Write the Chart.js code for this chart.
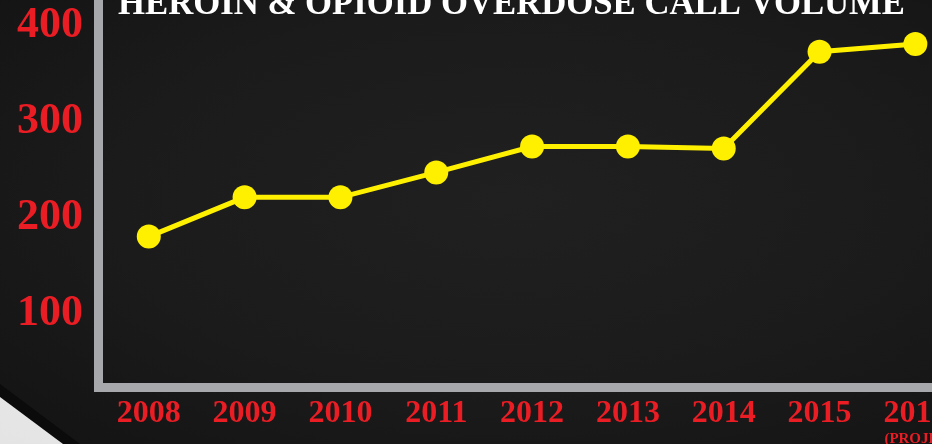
<!DOCTYPE html>
<html>
<head>
<meta charset="utf-8">
<script src="https://cdn.jsdelivr.net/npm/chart.js@4.4.1/dist/chart.umd.min.js"></script>
<style>
  html, body {
    margin: 0;
    padding: 0;
    width: 932px;
    height: 444px;
    overflow: hidden;
    background: radial-gradient(ellipse at 55% 45%, #202020 0%, #1b1b1b 55%, #131313 100%);
  }
  #wrap {
    position: relative;
    width: 932px;
    height: 444px;
    overflow: hidden;
  }
  .curl-shadow {
    position: absolute;
    left: 0;
    top: 0;
    width: 932px;
    height: 444px;
    background: #0b0b0b;
    clip-path: polygon(0 384px, 80px 444px, 0 444px);
  }
  .curl {
    position: absolute;
    left: 0;
    top: 0;
    width: 932px;
    height: 444px;
    background: linear-gradient(200deg, #ffffff 0%, #e4e4e4 100%);
    clip-path: polygon(0 397px, 63px 444px, 0 444px);
  }
  #call-chart {
    position: absolute;
    left: 0;
    top: 0;
  }
</style>
</head>
<body>
<div id="wrap">
  <div class="curl-shadow"></div>
  <div class="curl"></div>
  <canvas id="call-chart" width="970" height="444"></canvas>
</div>
<script>
const chartTitle = 'HEROIN & OPIOID OVERDOSE CALL VOLUME';
const projNote = '(PROJECTED)';

const years = [2008, 2009, 2010, 2011, 2012, 2013, 2014, 2015, 2016];
const callVolume = [180, 221, 221, 247, 274, 274, 272, 373, 381];
const yTicks = [100, 200, 300, 400];

const RED = '#ea1d25';
const YELLOW = '#fff000';
const AXIS_GRAY = '#a7a8ac';
const FONT = '"Liberation Serif", "DejaVu Serif", serif';

let callChart = null;

// title sits on top of the plot, cut off by the top edge
const titlePlugin = {
  id: 'posterText',
  afterDraw(chart) {
    const ctx = chart.ctx;
    ctx.save();
    ctx.fillStyle = '#ffffff';
    ctx.font = 'bold 36px ' + FONT;
    ctx.textBaseline = 'alphabetic';
    ctx.textAlign = 'left';
    const w = ctx.measureText(chartTitle).width;
    const targetW = 787;
    ctx.translate(118, 14);
    ctx.scale(targetW / w, 1);
    ctx.fillText(chartTitle, 0, 0);
    ctx.restore();

    // little note under the last year
    const xScale = chart.scales.x;
    ctx.save();
    ctx.fillStyle = RED;
    ctx.font = 'bold 15px ' + FONT;
    ctx.textAlign = 'left';
    ctx.textBaseline = 'alphabetic';
    ctx.fillText(projNote, xScale.getPixelForValue(years[years.length - 1]) - 31, 443);
    ctx.restore();
  }
};

function createCallChart() {
  const ctx = document.getElementById('call-chart');
  if (!ctx) {
    console.error('Canvas element not found');
    return;
  }

  if (callChart) {
    callChart.destroy();
  }

  const points = years.map((yr, i) => ({ x: yr, y: callVolume[i] }));

  callChart = new Chart(ctx, {
    type: 'line',
    data: {
      datasets: [{
        data: points,
        borderColor: YELLOW,
        backgroundColor: YELLOW,
        borderWidth: 5,
        pointRadius: 12,
        pointHoverRadius: 12,
        pointBorderWidth: 0,
        pointBackgroundColor: YELLOW,
        tension: 0,
        clip: false
      }]
    },
    options: {
      responsive: false,
      animation: false,
      layout: { padding: 0, autoPadding: false },
      scales: {
        x: {
          type: 'linear',
          min: 2007.47,
          max: 2016.57,
          grid: { display: false, drawTicks: false },
          border: { display: true, color: AXIS_GRAY, width: 9 },
          afterBuildTicks: function(scale) {
            scale.ticks = years.map(v => ({ value: v }));
          },
          afterFit: function(scale) {
            scale.height = 57;
            scale.paddingLeft = 0;
            scale.paddingRight = 0;
          },
          ticks: {
            color: RED,
            padding: 8,
            maxRotation: 0,
            autoSkip: false,
            font: { family: FONT, size: 32, weight: 'bold' },
            callback: function(value) {
              return String(value);
            }
          }
        },
        y: {
          type: 'linear',
          min: 23,
          max: 427,
          grid: { display: false, drawTicks: false },
          border: { display: true, color: AXIS_GRAY, width: 9 },
          afterBuildTicks: function(scale) {
            scale.ticks = yTicks.map(v => ({ value: v }));
          },
          afterFit: function(scale) {
            scale.width = 98;
            scale.paddingTop = 0;
            scale.paddingBottom = 0;
          },
          ticks: {
            color: RED,
            padding: 15,
            font: { family: FONT, size: 44, weight: 'bold' }
          }
        }
      },
      plugins: {
        legend: { display: false },
        title: { display: false },
        tooltip: { enabled: false }
      }
    },
    plugins: [titlePlugin]
  });

  console.log('chart area:', callChart.chartArea);
}

createCallChart();
</script>
</body>
</html>
